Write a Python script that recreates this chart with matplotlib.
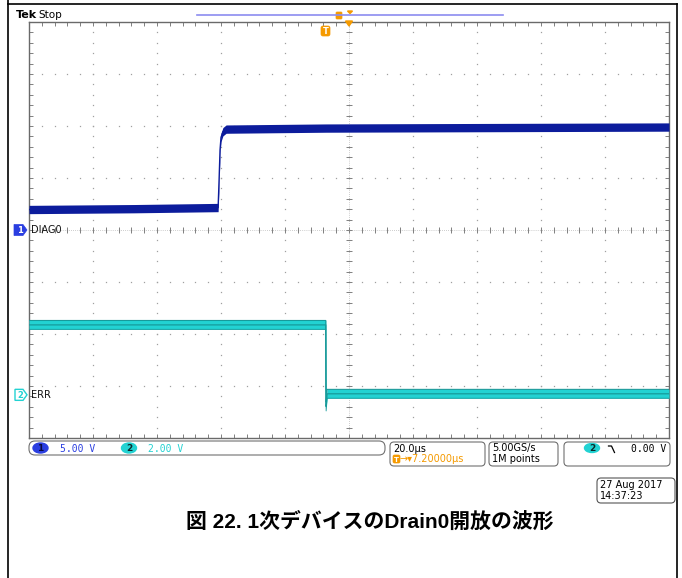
#!/usr/bin/env python3
"""
Recreate the Tek scope capture: DIAG0 / ERR waveforms when Drain0 opens.
"""
import numpy as np
import matplotlib
matplotlib.use("Agg")
import matplotlib.pyplot as plt
from matplotlib.patches import FancyBboxPatch, Polygon, Ellipse

# Scope settings (from the status bar)
TIME_PER_DIV = 20.0       # us/div
TRIGGER_OFFSET = 7.2      # us, screen centre relative to trigger
CH1_VOLTS_PER_DIV = 5.0
CH2_VOLTS_PER_DIV = 2.0
CH1_POSITION = 0.0        # div
CH2_POSITION = -3.17      # div

# Channel 1 (DIAG0)
ch1_time = [-92.8, -60.0, -33.7, -33.4, -33.1, -32.8, -32.2, -31.2, 0.0, 107.2]
ch1_volts = [1.97, 2.05, 2.16, 4.8, 7.7, 8.9, 9.45, 9.7, 9.8, 9.9]
ch1_noise = 0.4           # V, half width of the noise band

# Channel 2 (ERR)
ch2_time = [-92.8, -0.05, 0.0, 0.05, 0.35, 107.2]
ch2_volts = [2.69, 2.69, 0.5, -0.45, 0.04, 0.04]
ch2_noise = 0.17

# Texts
ch_labels = ["DIAG0", "ERR"]
scale_texts = ["5.00 V", "2.00 V"]
timebase_text = "20.0µs"
delay_text = "→▾7.20000µs"
sample_texts = ["5.00GS/s", "1M points"]
trigger_text = "0.00 V"
date_texts = ["27 Aug 2017", "14:37:23"]
caption = "図 22. 1次デバイスのDrain0開放の波形"

W, H = 682, 578
BLUE = "#0c1c9c"
BLUE_MARK = "#2a3ee0"
CYAN = "#22d2d2"
TEAL = "#179a9a"
ORANGE = "#f59a00"
GRID = "#a0a0a0"
FRAME = "#6a6a6a"


def rbox(ax, x0, y0, x1, y1, r=4, ec="#707070", fc="white", lw=0.8):
    """Rounded box in pixel coords."""
    p = FancyBboxPatch((x0, y0), x1 - x0, y1 - y0,
                       boxstyle=f"round,pad=0,rounding_size={r}",
                       ec=ec, fc=fc, lw=lw)
    ax.add_patch(p)


def main():
    fig = plt.figure(figsize=(W / 100, H / 100), dpi=100)
    fig.patch.set_facecolor("white")

    # Graticule
    ax = fig.add_axes([29 / W, 1 - 438 / H, 640 / W, 416 / H])
    x0 = TRIGGER_OFFSET - 5 * TIME_PER_DIV
    x1 = TRIGGER_OFFSET + 5 * TIME_PER_DIV
    ax.set_xlim(x0, x1)
    ax.set_ylim(-4, 4)

    major_x = TRIGGER_OFFSET + TIME_PER_DIV * np.arange(-5, 6)
    major_y = np.arange(-4, 5)
    minor_x = TRIGGER_OFFSET + TIME_PER_DIV * np.arange(-5, 5.01, 0.2)
    minor_y = np.arange(-4, 4.01, 0.2)

    for gx in major_x[1:-1]:
        ax.plot(np.full_like(minor_y, gx), minor_y, ls="none", marker="s",
                ms=0.9, mew=0, color=GRID, zorder=1)
    for gy in major_y[1:-1]:
        ax.plot(minor_x, np.full_like(minor_x, gy), ls="none", marker="s",
                ms=0.9, mew=0, color=GRID, zorder=1)

    # centre cross with tick marks
    ax.axvline(TRIGGER_OFFSET, color=GRID, lw=0.5, ls=(0, (1, 2)), zorder=1)
    ax.axhline(0, color=GRID, lw=0.5, ls=(0, (1, 2)), zorder=1)
    ax.plot(np.full_like(minor_y, TRIGGER_OFFSET), minor_y, ls="none",
            marker="_", ms=4, mew=0.7, color="#808080", zorder=1)
    ax.plot(minor_x, np.zeros_like(minor_x), ls="none",
            marker="|", ms=4, mew=0.7, color="#808080", zorder=1)

    ax.set_xticks(minor_x)
    ax.set_yticks(minor_y)
    ax.tick_params(direction="in", length=3, width=0.7, color="#808080",
                   top=True, right=True, labelbottom=False, labelleft=False)
    for s in ax.spines.values():
        s.set_color(FRAME)
        s.set_linewidth(1.0)

    # Channel 1 trace
    t1 = np.array(ch1_time)
    d1 = np.array(ch1_volts) / CH1_VOLTS_PER_DIV + CH1_POSITION
    hw1 = ch1_noise / CH1_VOLTS_PER_DIV
    ax.fill_between(t1, d1 - hw1, d1 + hw1, color=BLUE, lw=0, zorder=3)
    ax.plot(t1, d1, color=BLUE, lw=1.0, zorder=3)

    # Channel 2 trace
    t2 = np.array(ch2_time)
    d2 = np.array(ch2_volts) / CH2_VOLTS_PER_DIV + CH2_POSITION
    hw2 = ch2_noise / CH2_VOLTS_PER_DIV
    ax.fill_between(t2, d2 - hw2, d2 + hw2, color=CYAN, lw=0, zorder=3)
    ax.plot(t2, d2 + hw2, color=TEAL, lw=0.8, zorder=3)
    ax.plot(t2, d2 - hw2, color=TEAL, lw=0.6, zorder=3)
    ax.plot(t2, d2, color=TEAL, lw=0.9, zorder=3)

    # Overlay in pixel coordinates for the scope annotations
    ov = fig.add_axes([0, 0, 1, 1], zorder=5)
    ov.set_xlim(0, W)
    ov.set_ylim(H, 0)
    ov.axis("off")

    # page borders
    ov.plot([8, 8], [0, H], color="black", lw=1.2)
    ov.plot([8, 677], [4, 4], color="black", lw=1.2)
    ov.plot([677, 677], [4, H], color="black", lw=1.2)

    # top line: Tek Stop and record view
    ov.text(16, 15.5, "Tek", fontsize=8, fontweight="bold", va="center",
            family="DejaVu Sans")
    ov.text(38, 15.5, "Stop", fontsize=7.5, va="center", family="DejaVu Sans")
    ov.plot([197, 503], [15, 15], color="#8c8cf0", lw=1.2)
    rbox(ov, 336, 12, 342, 19, r=1, ec=ORANGE, fc=ORANGE, lw=0.5)
    ov.add_patch(Polygon([[347.5, 11], [352.5, 11], [350, 13.5]], color=ORANGE))
    ov.add_patch(Polygon([[345.5, 21], [352.5, 21], [349, 26]], color=ORANGE))
    rbox(ov, 321, 26, 330, 36, r=2, ec=ORANGE, fc=ORANGE, lw=0.5)
    ov.text(325.5, 31.5, "T", fontsize=6, fontweight="bold", color="white",
            ha="center", va="center")

    # channel markers
    y1 = 230 - CH1_POSITION * 52
    ov.add_patch(Polygon([[14, y1 - 5.5], [23, y1 - 5.5], [27, y1],
                          [23, y1 + 5.5], [14, y1 + 5.5]],
                         closed=True, fc=BLUE_MARK, ec=BLUE_MARK, lw=0.5))
    ov.text(19.5, y1 + 0.5, "1", fontsize=6, color="white", ha="center",
            va="center", fontweight="bold")
    ov.text(31, y1, ch_labels[0], fontsize=7, va="center", color="#111111")
    y2 = 230 - CH2_POSITION * 52
    ov.add_patch(Polygon([[15, y2 - 5.5], [23, y2 - 5.5], [27, y2],
                          [23, y2 + 5.5], [15, y2 + 5.5]],
                         closed=True, fc="white", ec=CYAN, lw=1.0))
    ov.text(20, y2 + 0.5, "2", fontsize=6, color=CYAN, ha="center",
            va="center", fontweight="bold")
    ov.text(31, y2, ch_labels[1], fontsize=7, va="center", color="#111111")

    # status bar
    rbox(ov, 29, 441, 385, 455, r=6)
    ov.add_patch(Ellipse((40.5, 448), 15, 10, color=BLUE_MARK))
    ov.text(40.5, 448.5, "1", fontsize=6.5, color="#0a0a40", ha="center",
            va="center", fontweight="bold")
    ov.text(60, 448.5, scale_texts[0], fontsize=7, color=BLUE_MARK,
            va="center", family="DejaVu Sans Mono")
    ov.add_patch(Ellipse((129, 448), 15, 10, color=CYAN))
    ov.text(129, 448.5, "2", fontsize=6.5, color="#0a2a2a", ha="center",
            va="center", fontweight="bold")
    ov.text(148, 448.5, scale_texts[1], fontsize=7, color=CYAN,
            va="center", family="DejaVu Sans Mono")

    rbox(ov, 390, 442, 485, 466, r=4)
    ov.text(393, 448.5, timebase_text, fontsize=7, va="center")
    rbox(ov, 393, 455, 400, 463, r=1.5, ec=ORANGE, fc=ORANGE, lw=0.5)
    ov.text(396.5, 459.5, "T", fontsize=5, fontweight="bold", color="white",
            ha="center", va="center")
    ov.text(400, 459.5, delay_text, fontsize=7, va="center", color=ORANGE,
            family="DejaVu Sans")

    rbox(ov, 489, 442, 558, 466, r=4)
    ov.text(492, 448.5, sample_texts[0], fontsize=7, va="center")
    ov.text(492, 459.5, sample_texts[1], fontsize=7, va="center")

    rbox(ov, 564, 442, 670, 466, r=4)
    ov.add_patch(Ellipse((592, 448), 15, 9, color=CYAN))
    ov.text(592, 448.5, "2", fontsize=6.5, color="#0a2a2a", ha="center",
            va="center", fontweight="bold")
    ov.plot([608.5, 611.5, 614.5], [446, 446, 452.5], color="black", lw=0.9)
    ov.text(666, 448.5, trigger_text, fontsize=7, va="center", ha="right",
            family="DejaVu Sans Mono")

    # date box
    rbox(ov, 597, 478, 675, 503, r=4, ec="#555555")
    ov.text(600, 485, date_texts[0], fontsize=7, va="center")
    ov.text(600, 496, date_texts[1], fontsize=7, va="center")

    # caption
    ov.text(370, 522, caption, fontsize=15, fontweight="bold", ha="center",
            va="center", family=["Liberation Sans", "Noto Sans CJK JP"])

    fig.savefig("out.png", dpi=100, facecolor="white")
    return 0


if __name__ == "__main__":
    exit(main())
